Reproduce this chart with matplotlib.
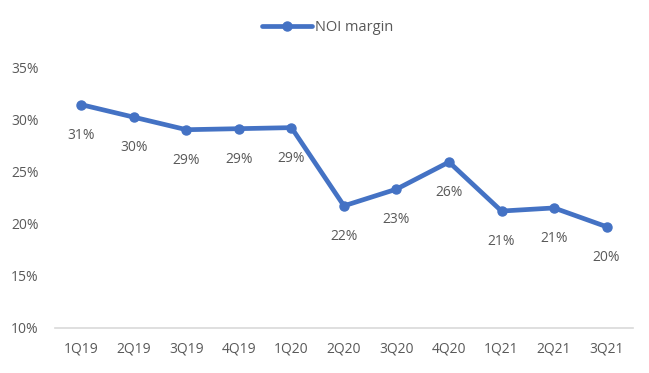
import matplotlib
import matplotlib.pyplot as plt
from matplotlib.ticker import FuncFormatter

matplotlib.use('Agg')

quarters = ['1Q19', '2Q19', '3Q19', '4Q19', '1Q20', '2Q20', '3Q20', '4Q20', '1Q21', '2Q21', '3Q21']
noi_margin = [31.4, 30.2, 29.0, 29.1, 29.2, 21.7, 23.3, 25.9, 21.2, 21.5, 19.7]
labels = ['31%', '30%', '29%', '29%', '29%', '22%', '23%', '26%', '21%', '21%', '20%']

plt.rcParams['font.family'] = ['Open Sans', 'DejaVu Sans']
grey = '#595959'
blue = '#4472C4'

fig = plt.figure(figsize=(6.49, 3.73), dpi=100)
ax = fig.add_axes([0.085, 0.121, 0.89, 0.699])
x = list(range(len(quarters)))
line, = ax.plot(x, noi_margin, color=blue, linewidth=3.4, marker='o',
                markersize=6.5, label='NOI margin', solid_capstyle='round')
for a, b, t in zip(x, noi_margin, labels):
    ax.annotate(t, (a, b), xytext=(0, -22), textcoords='offset points',
                ha='center', va='center', fontsize=10, color=grey)

ax.set_xlim(-0.5, len(quarters) - 0.5)
ax.set_ylim(10, 35)
ax.set_yticks([10, 15, 20, 25, 30, 35])
ax.yaxis.set_major_formatter(FuncFormatter(lambda v, p: f'{v:.0f}%'))
ax.set_xticks(x)
ax.set_xticklabels(quarters)
ax.tick_params(axis='both', length=0, labelsize=10, colors=grey)
ax.tick_params(axis='x', pad=10)
ax.tick_params(axis='y', pad=12)
for s in ['top', 'right', 'left']:
    ax.spines[s].set_visible(False)
ax.spines['bottom'].set_color('#d9d9d9')
ax.spines['bottom'].set_linewidth(1.2)

fig.legend(handles=[line], loc='center', bbox_to_anchor=(0.505, 0.925), frameon=False,
           fontsize=10.5, labelcolor=grey, handlelength=3.4, handletextpad=0.2)

plt.savefig('out.png')
